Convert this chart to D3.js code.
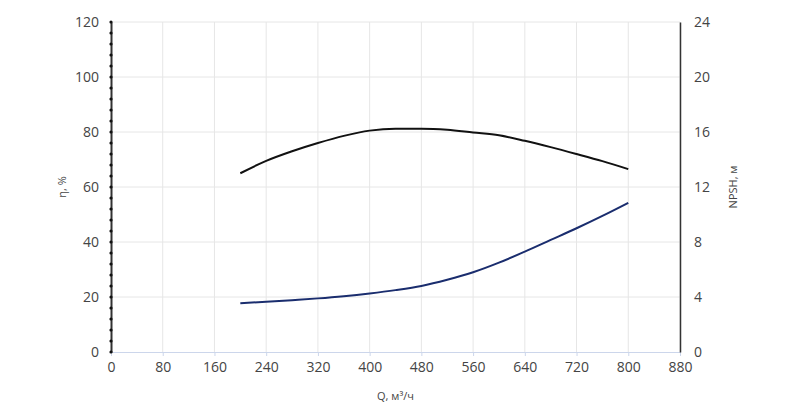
<!DOCTYPE html>
<html><head><meta charset="utf-8">
<script src="https://cdn.jsdelivr.net/npm/d3@7"></script>
<style>body{margin:0;background:#fff}text{font-family:"Open Sans",sans-serif}</style>
</head><body><svg id="chart" width="800" height="408"></svg>
<script>
const xTicks = [0, 80, 160, 240, 320, 400, 480, 560, 640, 720, 800, 880];
const etaQ = [200, 240, 280, 320, 360, 400, 440, 480, 520, 560, 600, 640, 680, 720, 760, 800];
const etaVal = [65, 69.5, 73, 76, 78.6, 80.5, 81.2, 81.2, 80.8, 79.8, 78.8, 76.8, 74.5, 72, 69.4, 66.5];
const npshQ = [200, 240, 280, 320, 360, 400, 440, 480, 520, 560, 600, 640, 680, 720, 760, 800];
const npshVal = [3.55, 3.65, 3.77, 3.9, 4.06, 4.26, 4.5, 4.8, 5.25, 5.8, 6.5, 7.3, 8.15, 9.0, 9.9, 10.85];

const svg = d3.select("#chart");
const L = 111, R = 680, T = 22, B = 352;
const x = d3.scaleLinear().domain([0, 880]).range([L, R]);
const yL = d3.scaleLinear().domain([0, 120]).range([B, T]);
const yR = d3.scaleLinear().domain([0, 24]).range([B, T]);

// grid
svg.append("g").selectAll("line").data(xTicks.slice(1)).join("line")
  .attr("x1", d => x(d)).attr("x2", d => x(d)).attr("y1", T).attr("y2", B)
  .attr("stroke", "#e6e6e6");
svg.append("g").selectAll("line").data(d3.range(20, 121, 20)).join("line")
  .attr("x1", L).attr("x2", R).attr("y1", d => yL(d)).attr("y2", d => yL(d))
  .attr("stroke", "#e6e6e6");

// bottom axis
const gx = svg.append("g").attr("transform", `translate(0,${B})`)
  .call(d3.axisBottom(x).tickValues(xTicks).tickSize(4).tickPadding(6));
gx.select(".domain").attr("stroke", "#ccd6eb");
gx.selectAll(".tick line").attr("stroke", "#ccd6eb");
gx.selectAll("text").attr("font-size", 14).attr("fill", "#444");

// left axis
const gl = svg.append("g").attr("transform", `translate(${L},0)`)
  .call(d3.axisLeft(yL).tickValues(d3.range(0, 121, 20)).tickSize(0).tickPadding(12));
gl.select(".domain").attr("stroke", "#333").attr("stroke-width", 2);
gl.selectAll("text").attr("font-size", 14).attr("fill", "#444");
svg.append("g").selectAll("circle").data(d3.range(0, 121, 4)).join("circle")
  .attr("cx", L).attr("cy", d => yL(d)).attr("r", 1.6).attr("fill", "#111");

// right axis
const gr = svg.append("g").attr("transform", `translate(${R},0)`)
  .call(d3.axisRight(yR).tickValues(d3.range(0, 25, 4)).tickSize(0).tickPadding(14));
gr.select(".domain").attr("stroke", "#333").attr("stroke-width", 1.5);
gr.selectAll("text").attr("font-size", 14).attr("fill", "#444");

// titles
svg.append("text").attr("transform", `translate(66,${(T + B) / 2}) rotate(-90)`)
  .attr("text-anchor", "middle").attr("font-size", 11).attr("fill", "#444").text("η, %");
svg.append("text").attr("transform", `translate(737,${(T + B) / 2}) rotate(-90)`)
  .attr("text-anchor", "middle").attr("font-size", 11).attr("fill", "#444").text("NPSH, м");
svg.append("text").attr("x", (L + R) / 2).attr("y", 400)
  .attr("text-anchor", "middle").attr("font-size", 11).attr("fill", "#444").text("Q, м³/ч");

// curves
const lineEta = d3.line().x((d, i) => x(etaQ[i])).y(d => yL(d)).curve(d3.curveMonotoneX);
svg.append("path").attr("d", lineEta(etaVal)).attr("fill", "none")
  .attr("stroke", "#111").attr("stroke-width", 2);
const lineN = d3.line().x((d, i) => x(npshQ[i])).y(d => yR(d)).curve(d3.curveMonotoneX);
svg.append("path").attr("d", lineN(npshVal)).attr("fill", "none")
  .attr("stroke", "#1a2d6e").attr("stroke-width", 2);
</script></body></html>
